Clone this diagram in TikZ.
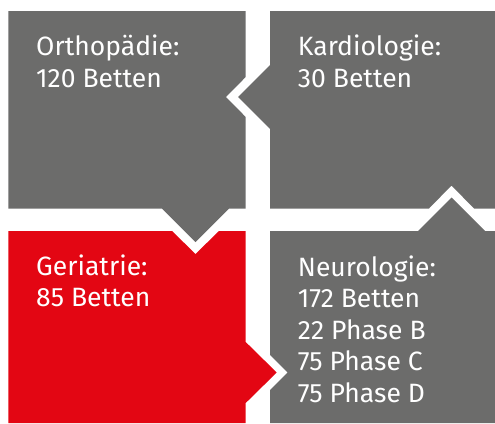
\documentclass[tikz,border=0pt]{standalone}
\usepackage{fontspec}
\setmainfont{Fira Sans}
\usepackage{xcolor}
\usepackage{tikz}
\usetikzlibrary{positioning}
\definecolor{boxgray}{RGB}{108,108,107}
\definecolor{boxred}{RGB}{227,6,19}

\begin{document}
\begin{tikzpicture}[x=1pt,y=-1pt,
  label/.style={text=white,align=left,anchor=base west,inner sep=0pt,
    font=\fontsize{26.5}{31.5}\selectfont}]
\useasboundingbox (0,0) rectangle (495,423);
% Orthopaedie
\fill[boxgray] (8.3,11) -- (245.7,11) -- (245.7,77) -- (226,97) -- (245.7,117)
  -- (245.7,208.5) -- (229,208.5) -- (195.5,242) -- (162,208.5) -- (8.3,208.5) -- cycle;
% Kardiologie
\fill[boxgray] (270,11) -- (495,11) -- (495,208.5) -- (474,208.5) -- (451.5,185.5)
  -- (429,208.5) -- (270,208.5) -- (270,129) -- (238,97) -- (270,65) -- cycle;
% Geriatrie
\fill[boxred] (8.3,231) -- (172,231) -- (195.5,254) -- (219,231) -- (245.7,231)
  -- (245.7,342) -- (276.7,372.5) -- (245.7,403) -- (245.7,423) -- (8.3,423) -- cycle;
% Neurologie
\fill[boxgray] (270,231) -- (418,231) -- (451.5,197.5) -- (485,231) -- (495,231)
  -- (495,423) -- (270,423) -- (270,390) -- (287.7,372.5) -- (270,355) -- cycle;
% texts, placed at the baseline of their last line
\node[label] (ortho) at (36,87.3) {Orthopädie:\\120 Betten};
\node[label] (kardio) at (297.7,87.3) {Kardiologie:\\30 Betten};
\node[label] (geria) at (36,306.7) {Geriatrie:\\85 Betten};
\node[label] (neuro) at (297.7,402) {Neurologie:\\172 Betten\\22 Phase B\\75 Phase C\\75 Phase D};
\end{tikzpicture}
\end{document}
